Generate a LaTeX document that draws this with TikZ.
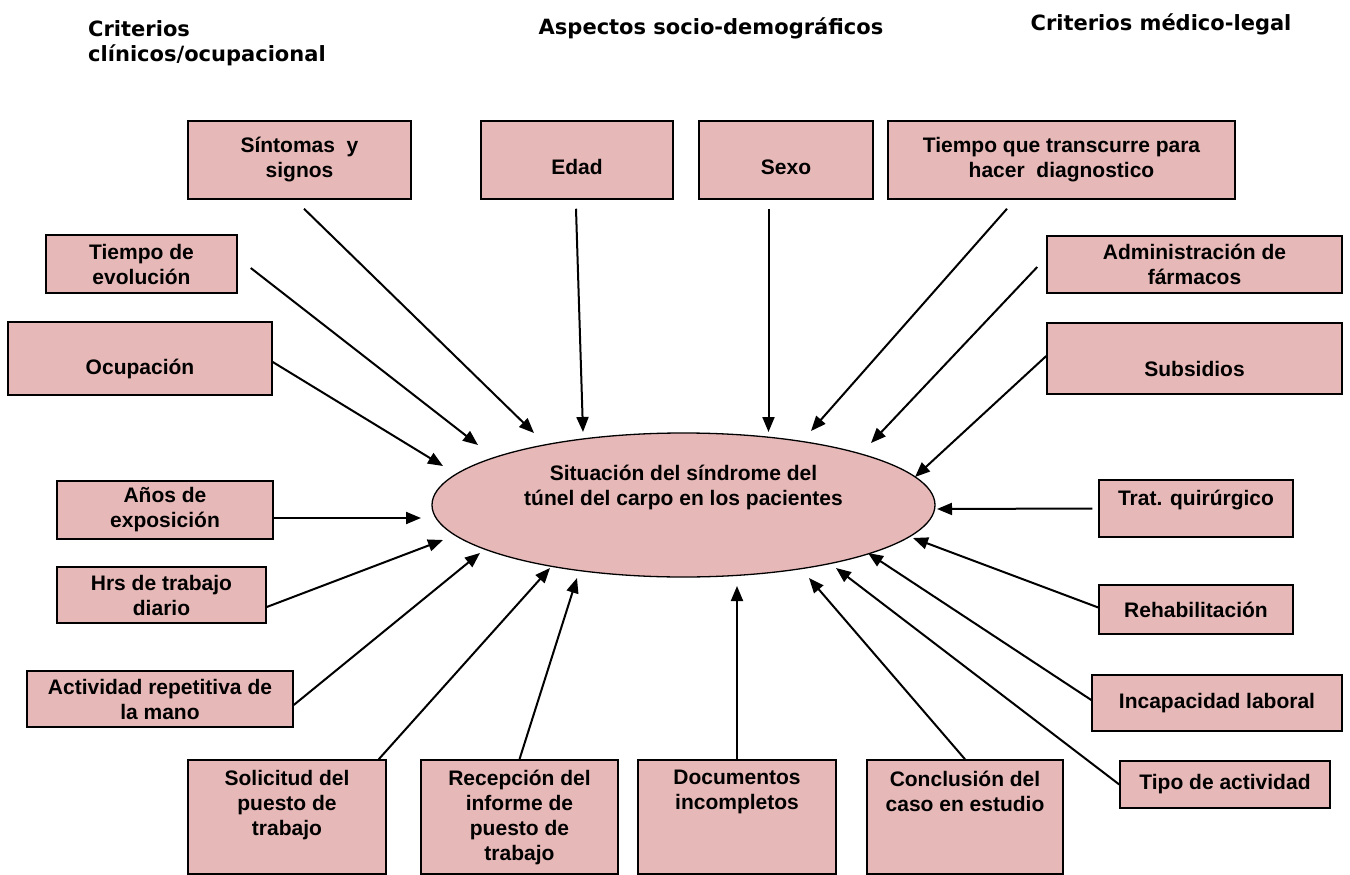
\documentclass[tikz,border=0pt]{standalone}
\usepackage{fontspec}
\setmainfont{Liberation Sans}
\newfontfamily\titulofont{DejaVu Sans}
\usetikzlibrary{arrows.meta,shapes.geometric}
\definecolor{rosa}{HTML}{E6B8B7}
\tikzset{
  caja/.style={shape=rectangle,draw=black,line width=1.5pt,fill=rosa,inner sep=1pt,align=center,
    font=\bfseries\fontsize{21}{25}\selectfont},
  titulo/.style={inner sep=0pt,font=\titulofont\bfseries\fontsize{21}{25}\selectfont},
  flecha/.style={line width=2pt,-{Triangle[length=15pt,width=12pt]}}
}

\begin{document}
\begin{tikzpicture}[x=1pt,y=-1pt]
\useasboundingbox (0,0) rectangle (1350,875);
% titulos de los grupos
\path (88,43) node [titulo,anchor=west,align=left] (clin) {Criterios\\clínicos/ocupacional}
      (711,28.5) node [titulo] (socio) {Aspectos socio-demográficos}
      (1161,24.5) node [titulo] (legal) {Criterios médico-legal};
% elipse central
\path (683.5,505) node [shape=ellipse,draw=black,line width=1.3pt,fill=rosa,minimum width=503pt,minimum height=144pt,
      inner sep=0pt,align=center,font=\bfseries\fontsize{21}{25}\selectfont,text depth=40pt] (sit)
      {Situación del síndrome del\\túnel del carpo en los pacientes};
% cajas de arriba
\path (299.5,160) node [caja,minimum width=223pt,minimum height=78pt] (sint) {Síntomas \ y\\signos}
      (577,160) node [caja,minimum width=192pt,minimum height=78pt,text height=29pt] (edad) {Edad}
      (786,160) node [caja,minimum width=174pt,minimum height=78pt,text height=29pt] (sexo) {Sexo}
      (1061.5,160) node [caja,minimum width=347pt,minimum height=78pt] (diag) {Tiempo que transcurre para\\hacer \ diagnostico};
% cajas de la izquierda
\path (141.5,264) node [caja,minimum width=191pt,minimum height=58pt] (evol) {Tiempo de\\evolución}
      (140,358.5) node [caja,minimum width=264pt,minimum height=73pt,text height=36pt] (ocup) {Ocupación}
      (165,510) node [caja,minimum width=216pt,minimum height=58pt] (anos) {Años de\\exposición}
      (161.5,595) node [caja,minimum width=209pt,minimum height=56pt] (hrs) {Hrs de trabajo\\diario}
      (160,699) node [caja,minimum width=266pt,minimum height=56pt] (act) {Actividad repetitiva de\\la mano};
% cajas de abajo
\path (287,817) node [caja,minimum width=198pt,minimum height=114pt,text depth=29pt] (soli) {Solicitud del\\puesto de\\trabajo}
      (519.5,817) node [caja,minimum width=197pt,minimum height=114pt] (recep) {Recepción del\\informe de\\puesto de\\trabajo}
      (737,817) node [caja,minimum width=198pt,minimum height=114pt,text depth=54pt] (docs) {Documentos\\incompletos}
      (965,817) node [caja,minimum width=196pt,minimum height=114pt,text depth=52pt] (concl) {Conclusión del\\caso en estudio};
% cajas de la derecha
\path (1194.5,264.5) node [caja,minimum width=295pt,minimum height=57pt] (farm) {Administración de\\fármacos}
      (1194.5,358.5) node [caja,minimum width=295pt,minimum height=71pt,text height=36pt] (subs) {Subsidios}
      (1196,508.5) node [caja,minimum width=194pt,minimum height=57pt,text depth=21pt] (trat) {Trat. quirúrgico}
      (1196,609.5) node [caja,minimum width=194pt,minimum height=49pt] (rehab) {Rehabilitación}
      (1217,703) node [caja,minimum width=250pt,minimum height=56pt] (incap) {Incapacidad laboral}
      (1225,784.5) node [caja,minimum width=210pt,minimum height=47pt] (tipo) {Tipo de actividad};
% puntas de las flechas
\path (534,433) coordinate (pSint)   (583,432) coordinate (pEdad)
      (768.5,432) coordinate (pSexo) (811,431) coordinate (pDiag)
      (478,445) coordinate (pEvol)   (443,466) coordinate (pOcup)
      (421,518) coordinate (pAnos)   (443,540) coordinate (pHrs)
      (480,553) coordinate (pAct)    (550,568) coordinate (pSoli)
      (577,578) coordinate (pRecep)  (737,586) coordinate (pDocs)
      (809,578) coordinate (pConcl)  (836,568) coordinate (pTipo)
      (868,553) coordinate (pIncap)  (913,538) coordinate (pRehab)
      (937,509) coordinate (pTrat)   (915,477) coordinate (pSubs)
      (871,443) coordinate (pFarm);
% flechas
\draw[flecha] ([xshift=4.5pt,yshift=-9pt]sint.south) -- (pSint);
\draw[flecha] ([xshift=-1pt,yshift=-9pt]edad.south) -- (pEdad);
\draw[flecha] ([xshift=-17.5pt,yshift=-9pt]sexo.south) -- (pSexo);
\draw[flecha] ([xshift=-54.5pt,yshift=-9pt]diag.south) -- (pDiag);
\draw[flecha] ([xshift=13pt,yshift=-4pt]evol.east) -- (pEvol);
\draw[flecha] ([yshift=-3.5pt]ocup.east) -- (pOcup);
\draw[flecha] ([yshift=-8pt]anos.east) -- (pAnos);
\draw[flecha] ([yshift=-12pt]hrs.east) -- (pHrs);
\draw[flecha] ([yshift=-6pt]act.east) -- (pAct);
\draw[flecha] ([xshift=-8pt]soli.north east) -- (pSoli);
\draw[flecha] (recep.north) -- (pRecep);
\draw[flecha] (docs.north) -- (pDocs);
\draw[flecha] (concl.north) -- (pConcl);
\draw[flecha] (tipo.west) -- (pTipo);
\draw[flecha] ([yshift=3pt]incap.west) -- (pIncap);
\draw[flecha] ([yshift=2pt]rehab.west) -- (pRehab);
\draw[flecha] ([xshift=-6pt]trat.west) -- (pTrat);
\draw[flecha] ([yshift=2.5pt]subs.west) -- (pSubs);
\draw[flecha] ([xshift=-9pt,yshift=-2.5pt]farm.west) -- (pFarm);
\end{tikzpicture}
\end{document}
